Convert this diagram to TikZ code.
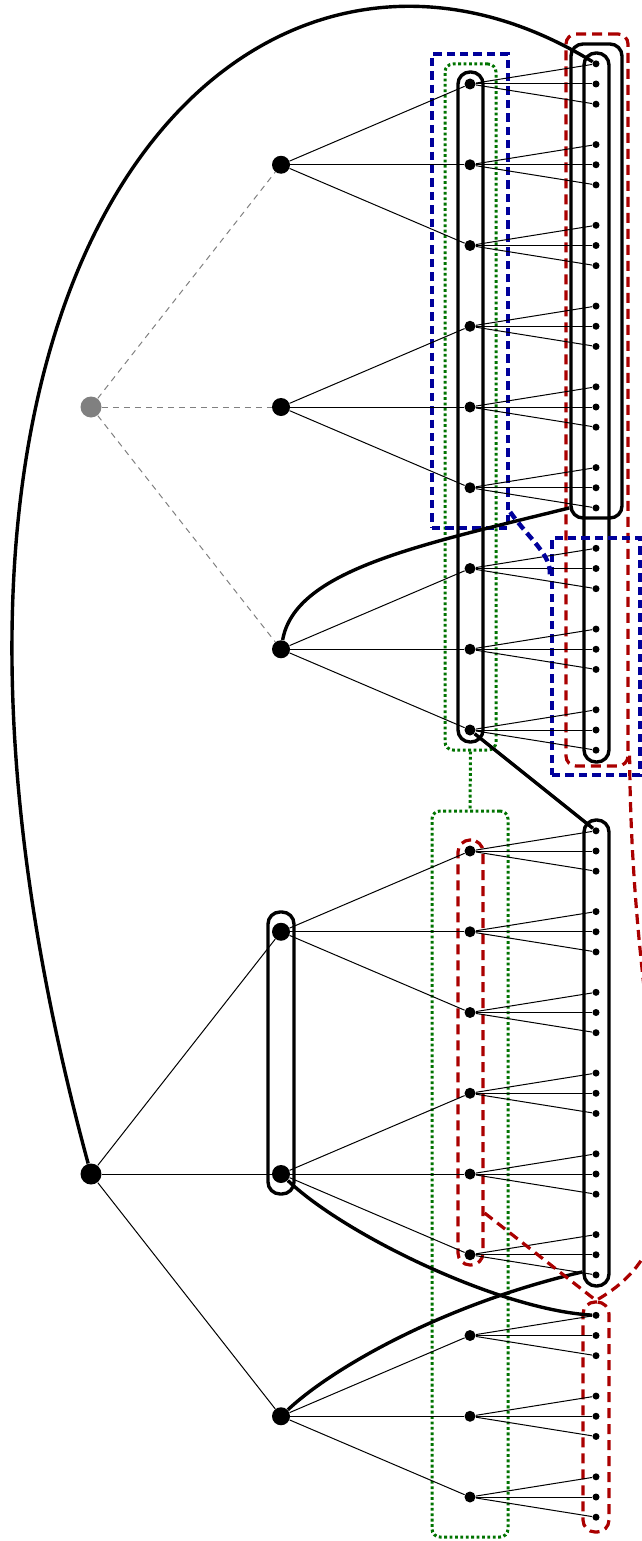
\documentclass[tikz,border=0pt]{standalone}
\usetikzlibrary{fit,calc}
\definecolor{dred}{RGB}{170,0,0}
\definecolor{dblue}{RGB}{0,0,155}
\definecolor{dgreen}{RGB}{0,115,0}
\begin{document}
\begin{tikzpicture}[x=0.5pt,y=-0.5pt,
  rootnode/.style={circle,fill=black,inner sep=0pt,minimum size=10.5pt},
  bignode/.style={circle,fill=black,inner sep=0pt,minimum size=9pt},
  midnode/.style={circle,fill=black,inner sep=0pt,minimum size=5.5pt},
  leafnode/.style={circle,fill=black,inner sep=0pt,minimum size=3.5pt},
  edgeline/.style={line width=0.5pt},
  grayedge/.style={draw=gray,line width=0.5pt,dash pattern=on 3pt off 2.5pt},
  thickcurve/.style={line width=1.7pt},
  blackbox/.style={draw,line width=1.7pt,rounded corners=6pt,inner sep=0pt},
  reddash/.style={draw=dred,line width=1.6pt,dash pattern=on 5pt off 3pt},
  redbox/.style={reddash,rounded corners=5pt,inner sep=0pt},
  bluedash/.style={draw=dblue,line width=2.2pt,dash pattern=on 4.2pt off 2.5pt},
  bluebox/.style={bluedash,inner sep=0pt},
  greendot/.style={draw=dgreen,line width=1.5pt,dash pattern=on 1.4pt off 1.3pt},
  greenbox/.style={greendot,rounded corners=4pt,inner sep=0pt},
]
\useasboundingbox (0,0) rectangle (642,1541);
\clip (0,0) rectangle (642,1541);

% ---------- boxes ----------
\node[greenbox, fit={(445,64)(496,750)}] (tg) {};
\node[bluebox, fit={(432,54)(508,528)}] (tb1) {};
\node[blackbox, fit={(458,72)(483,742)}] (tgc) {};
\node[redbox, fit={(566,34)(628,766)}] (rt) {};
\node[blackbox, fit={(571,44)(622,518)}] (touter) {};
\node[blackbox, fit={(584,53)(609,762)}] (tlv) {};
\node[bluebox, fit={(552,538)(640,775)}] (tb2) {};

\node[greenbox, fit={(432,811)(508,1537)}] (bg) {};
\node[redbox, rounded corners=6pt, fit={(458,840)(483,1265)}] (rs) {};
\node[blackbox, fit={(584,820)(609,1286)}] (blv) {};
\node[blackbox, fit={(268,912)(294,1194)}] (bbox) {};
\node[redbox, rounded corners=6pt, fit={(583,1302)(609,1532)}] (rb) {};

% ---------- top tree ----------
\node[rootnode, fill=gray] (gr) at (91,407) {};
\foreach \i/\y in {1/164.75,2/407,3/649.25}
  \node[bignode] (a\i) at (281,\y) {};
\foreach \j in {1,...,9}{
  \pgfmathsetmacro\gy{84+80.75*(\j-1)}
  \node[midnode] (g\j) at (470,\gy) {};
  \foreach \k in {1,2,3}{
    \pgfmathtruncatemacro\n{3*(\j-1)+\k}
    \node[leafnode] (tl\n) at (596,\gy+20.1875*\k-40.375) {};
  }
}
% ---------- bottom tree ----------
\node[rootnode] (br) at (91,1174) {};
\foreach \i/\y in {1/931.75,2/1174,3/1416.25}
  \node[bignode] (bb\i) at (281,\y) {};
\foreach \j in {1,...,9}{
  \pgfmathsetmacro\gy{851+80.75*(\j-1)}
  \node[midnode] (h\j) at (470,\gy) {};
  \foreach \k in {1,2,3}{
    \pgfmathtruncatemacro\n{3*(\j-1)+\k}
    \node[leafnode] (bl\n) at (596,\gy+20.1875*\k-40.375) {};
  }
}

% ---------- tree edges ----------
\foreach \i in {1,2,3}{
  \draw[grayedge] (gr) -- (a\i);
  \draw[edgeline] (br) -- (bb\i);
  \foreach \k in {1,2,3}{
    \pgfmathtruncatemacro\j{3*(\i-1)+\k}
    \draw[edgeline] (a\i) -- (g\j);
    \draw[edgeline] (bb\i) -- (h\j);
  }
}
\foreach \j in {1,...,9}{
  \foreach \k in {1,2,3}{
    \pgfmathtruncatemacro\n{3*(\j-1)+\k}
    \draw[edgeline] (g\j) -- (tl\n);
    \draw[edgeline] (h\j) -- (bl\n);
  }
}

% ---------- thick connectors ----------
\draw[thickcurve] (br) .. controls (-160,250) and (248,-150) .. (tl1);
\draw[thickcurve] (a3) .. controls (295,570) and (420,545) .. (touter.west |- tl18);
\draw[thickcurve] (g9) -- (bl1);
\draw[thickcurve] (bb2) .. controls (345,1235) and (500,1310) .. (bl19);
\draw[thickcurve] (bb3) .. controls (330,1370) and (440,1305) .. ($(blv.west |- bl18)+(0,-3)$);

% ---------- group connectors ----------
\draw[greendot] (tg.south) -- (bg.north);
\draw[bluedash] ($(tb1.east)+(0,221)$) .. controls (530,540) and (552,555) .. ($(tb2.north west)+(0,40)$);
\draw[reddash] ($(rs.east)+(0,160.5)$) -- (rb.north) .. controls (720,1230) and (632,1100) .. ($(rt.south east)+(0,-12)$);
\end{tikzpicture}
\end{document}
